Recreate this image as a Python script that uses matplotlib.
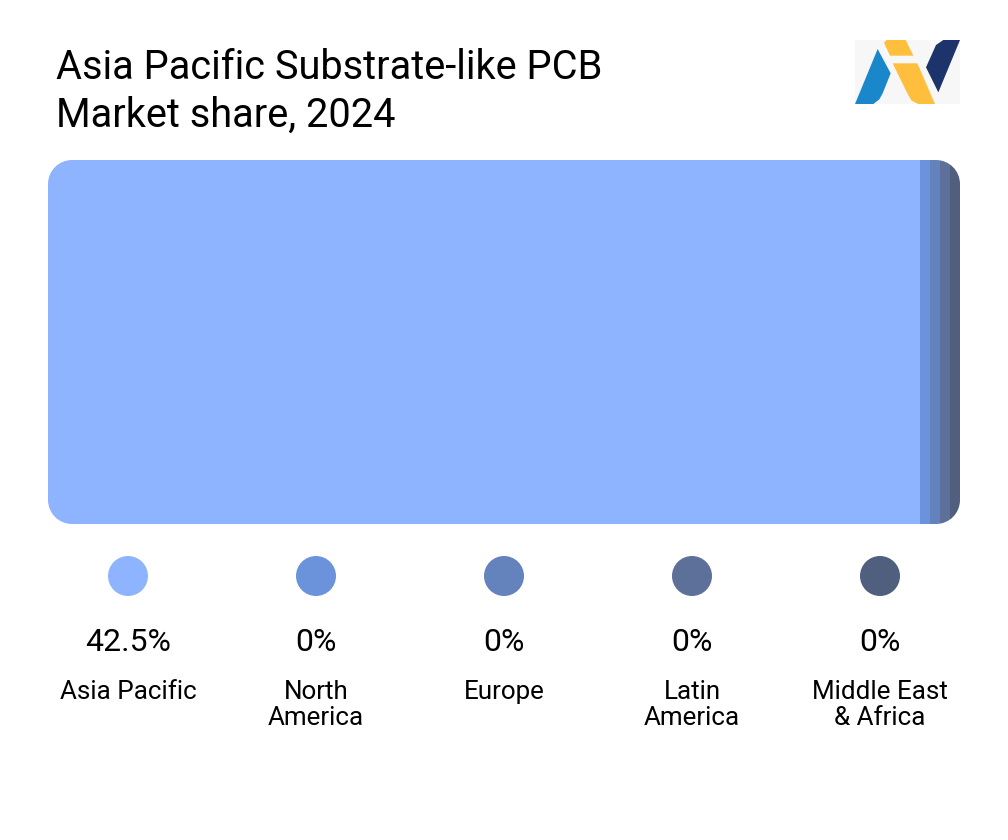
import matplotlib
matplotlib.use("Agg")
import matplotlib.pyplot as plt
from matplotlib.patches import Polygon, Rectangle, Circle, PathPatch
from matplotlib.path import Path

W, H = 1008, 840
plt.rcParams['font.family'] = ['Roboto', 'DejaVu Sans']

title_lines = ["Asia Pacific Substrate-like PCB", "Market share, 2024"]
regions = [["Asia Pacific"], ["North", "America"], ["Europe"], ["Latin", "America"], ["Middle East", "& Africa"]]
value_labels = ["42.5%", "0%", "0%", "0%", "0%"]
drawn_shares = [42.5, 0.4875, 0.4875, 0.4875, 0.4875]
colors = ["#8FB4FF", "#6B93DC", "#6483BD", "#5D7099", "#515F7E"]

fig = plt.figure(figsize=(W / 100, H / 100), dpi=100, facecolor="white")

ov = fig.add_axes([0, 0, 1, 1])
ov.set_xlim(0, W)
ov.set_ylim(H, 0)
ov.axis("off")

ax = fig.add_axes([48 / W, 1 - 524 / H, 912 / W, 364 / H])
ax.set_xlim(0, sum(drawn_shares))
ax.set_ylim(-0.5, 0.5)
ax.axis("off")

def rounded(x0, y0, x1, y1, r):
    k = r * 0.5523
    v = [(x0 + r, y0), (x1 - r, y0),
         (x1 - r + k, y0), (x1, y0 + r - k), (x1, y0 + r),
         (x1, y1 - r),
         (x1, y1 - r + k), (x1 - r + k, y1), (x1 - r, y1),
         (x0 + r, y1),
         (x0 + r - k, y1), (x0, y1 - r + k), (x0, y1 - r),
         (x0, y0 + r),
         (x0, y0 + r - k), (x0 + r - k, y0), (x0 + r, y0),
         (x0 + r, y0)]
    c = [Path.MOVETO, Path.LINETO, Path.CURVE4, Path.CURVE4, Path.CURVE4,
         Path.LINETO, Path.CURVE4, Path.CURVE4, Path.CURVE4,
         Path.LINETO, Path.CURVE4, Path.CURVE4, Path.CURVE4,
         Path.LINETO, Path.CURVE4, Path.CURVE4, Path.CURVE4, Path.CLOSEPOLY]
    return Path(v, c)

clip = PathPatch(rounded(48, 160, 960, 524, 24), transform=ov.transData, fc="none", ec="none")
ov.add_patch(clip)
left = 0
for share, color in zip(drawn_shares, colors):
    b = ax.barh(0, share, left=left, height=1, color=color, linewidth=0)
    for p in b:
        p.set_clip_path(clip)
    left += share

for line, y in zip(title_lines, [79, 127]):
    ov.text(56, y, line, fontsize=28.65, color="#000000", va="baseline", ha="left")

centers = [128, 316, 504, 692, 880]
for cx, color, val, reg in zip(centers, colors, value_labels, regions):
    ov.add_patch(Circle((cx, 576), 20, fc=color, ec="none"))
    ov.text(cx, 651, val, fontsize=23, color="#000000", ha="center", va="baseline")
    for i, part in enumerate(reg):
        ov.text(cx, 698.7 + 26 * i, part, fontsize=18.7, color="#000000",
                ha="center", va="baseline")

ov.add_patch(Rectangle((855, 40), 105, 64, fc="#F7F7F7", ec="none"))
def pts(seq):
    return [(840 + x / 3, 30 + y / 3) for x, y in seq]
ov.add_patch(Polygon(pts([(45, 222), (113, 57), (152, 130), (128, 190), (118, 208), (100, 222)]),
                     fc="#1A87CB", ec="none"))
ov.add_patch(Polygon(pts([(132, 38), (140, 30), (197, 30), (220, 77), (150, 77)]),
                     fc="#FFBE3C", ec="none"))
ov.add_patch(Polygon(pts([(158, 100), (232, 100), (285, 222), (235, 222), (215, 212), (203, 192)]),
                     fc="#FFBE3C", ec="none"))
ov.add_patch(Polygon(pts([(258, 112), (288, 45), (310, 30), (360, 30), (295, 187)]),
                     fc="#1D336C", ec="none"))

fig.savefig("out.png", dpi=100, facecolor="white")
